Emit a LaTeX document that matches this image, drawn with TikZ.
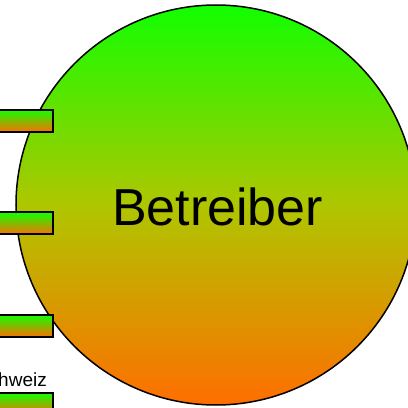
\documentclass[tikz,border=0pt]{standalone}
\usepackage{fontspec}
\setmainfont{Liberation Sans}
\definecolor{topgreen}{RGB}{17,255,0}
\definecolor{midlime}{RGB}{175,198,0}
\definecolor{botorange}{RGB}{255,110,0}
\tikzset{
  bigcirc/.style={circle, draw=black, line width=1.5pt, minimum size=400pt, inner sep=0pt,
    top color=topgreen, bottom color=botorange, middle color=midlime},
  port/.style={rectangle, draw=black, line width=2pt, minimum width=70pt, minimum height=22pt,
    inner sep=0pt, top color=topgreen, bottom color=botorange},
  lbl/.style={inner sep=0pt, font=\fontsize{19}{22}\selectfont},
  title/.style={anchor=base, inner sep=0pt, font=\fontsize{52}{60}\selectfont}
}
\begin{document}
\begin{tikzpicture}[x=1pt,y=1pt]
\useasboundingbox (0,0) rectangle (408,408);
\clip (0,0) rectangle (408,408);
\node[bigcirc] (op) at (216,203) {};
\node[title] (optext) at (217.5,182) {Betreiber};
\node[port] (p1) at (18,287) {};
\node[port] (p2) at (18,184.5) {};
\node[port] (p3) at (18,82) {};
\node[port] (p4) at (18,4) {};
\node[lbl, anchor=base east] (ch) at (47,21) {Schweiz};
\end{tikzpicture}
\end{document}
